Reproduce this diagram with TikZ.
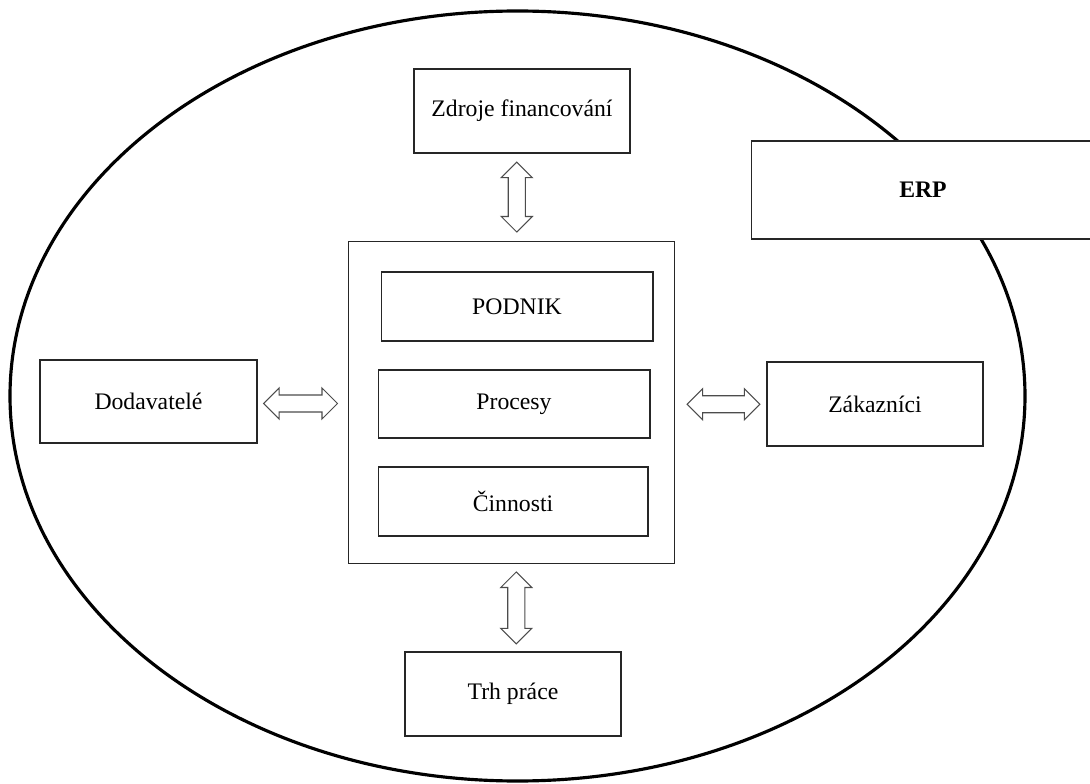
\documentclass[tikz,border=0pt]{standalone}
\usepackage{fontspec}
\setmainfont{Liberation Serif}
\usetikzlibrary{shapes.arrows,calc}

\tikzset{
  box/.style={draw=black!85, line width=0.6pt, fill=white, inner sep=0pt,
    font=\fontsize{13.5}{16}\selectfont},
  blockarrow/.style={double arrow, draw=black!70, line width=0.6pt, fill=white,
    inner sep=0pt, inner ysep=0.16cm, double arrow head extend=0.14cm,
    double arrow tip angle=90},
}

\begin{document}
\begin{tikzpicture}[x=0.02cm, y=-0.02cm]
  \clip (0,0) rectangle (1090,784);
  \fill[white] (0,0) rectangle (1090,784);

  % surrounding environment
  \draw[line width=1.8pt] (517.5,396) ellipse [x radius=507.5, y radius=385];

  % information system overlapping the boundary
  \node[box, minimum width=6.88cm, minimum height=1.96cm, font=\fontsize{13.5}{16}\selectfont\bfseries]
    (erp) at (923,190) {ERP};

  % company and its internal layers
  \node[box, minimum width=6.54cm, minimum height=6.46cm] (main) at (511.5,402.5) {};
  \node[box, minimum width=5.44cm, minimum height=1.38cm] (podnik) at (517,306.5) {PODNIK};
  \node[box, minimum width=5.44cm, minimum height=1.36cm] (procesy) at (514,404) {Procesy};
  \node[box, minimum width=5.40cm, minimum height=1.38cm] (cinnosti) at (513,501.5) {Činnosti};

  % external partners
  \node[box, minimum width=4.32cm, minimum height=1.68cm] (zdroje) at (522,111) {Zdroje financování};
  \node[box, minimum width=4.34cm, minimum height=1.66cm] (dodav) at (148.5,401.5) {Dodavatelé};
  \node[box, minimum width=4.32cm, minimum height=1.68cm] (zakaz) at (875,404) {Zákazníci};
  \node[box, minimum width=4.32cm, minimum height=1.68cm] (trh) at (513,694) {Trh práce};

  % two-way block arrows between the company and its partners
  \node[blockarrow, minimum height=1.40cm, rotate=90] (azdroje)
    at ($(zdroje.south)!0.5!(main.north)$) {};
  \node[blockarrow, minimum height=1.44cm, rotate=90] (atrh)
    at ($(main.south)!0.5!(trh.north) + (4,0)$) {};
  \node[blockarrow, minimum height=1.48cm] (adodav)
    at ($(dodav.east)!0.5!(main.west) + (-2,1.5)$) {};
  \node[blockarrow, minimum height=1.46cm] (azakaz)
    at ($(main.east)!0.5!(zakaz.west) + (2.5,1)$) {};
\end{tikzpicture}
\end{document}
